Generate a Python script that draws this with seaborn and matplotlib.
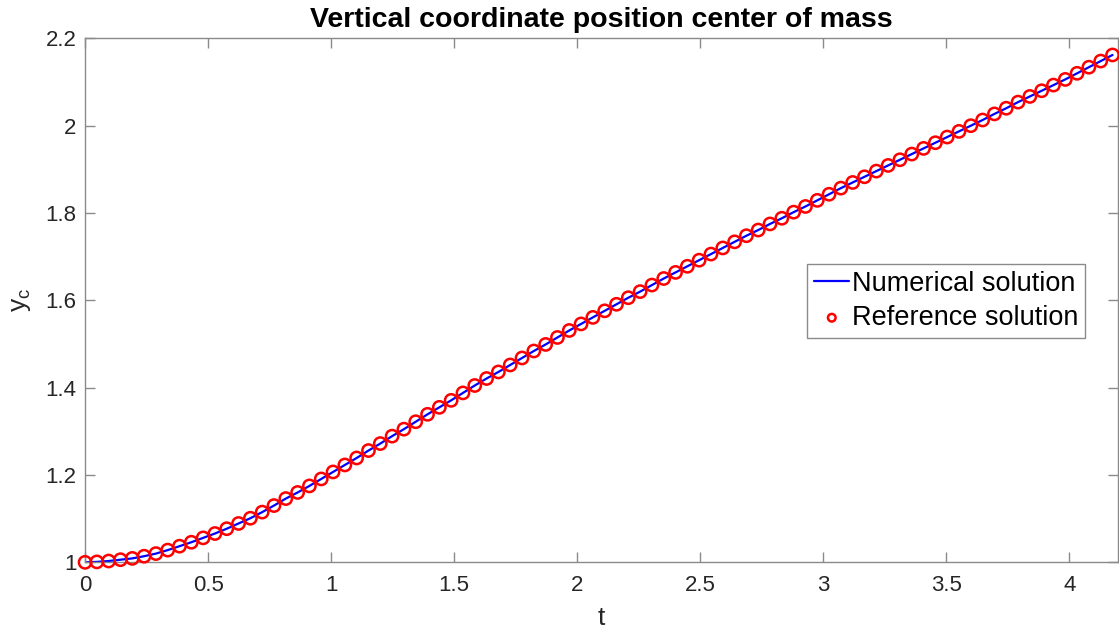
import matplotlib
matplotlib.use("Agg")
import matplotlib.pyplot as plt
import seaborn as sns
import pandas as pd

# ---- data ----
t_values = [
    0.000, 0.048, 0.096, 0.144, 0.192, 0.240, 0.288, 0.336, 0.384, 0.432,
    0.480, 0.528, 0.576, 0.624, 0.672, 0.720, 0.768, 0.816, 0.864, 0.912,
    0.960, 1.008, 1.056, 1.104, 1.152, 1.200, 1.248, 1.296, 1.344, 1.392,
    1.440, 1.488, 1.536, 1.584, 1.632, 1.680, 1.728, 1.776, 1.824, 1.872,
    1.920, 1.968, 2.016, 2.064, 2.112, 2.160, 2.208, 2.256, 2.304, 2.352,
    2.400, 2.448, 2.496, 2.544, 2.592, 2.640, 2.688, 2.736, 2.784, 2.832,
    2.880, 2.928, 2.976, 3.024, 3.072, 3.120, 3.168, 3.216, 3.264, 3.312,
    3.360, 3.408, 3.456, 3.504, 3.552, 3.600, 3.648, 3.696, 3.744, 3.792,
    3.840, 3.888, 3.936, 3.984, 4.032, 4.080, 4.128, 4.176,
]
y_numerical = [
    1.000, 1.001, 1.003, 1.006, 1.009, 1.014, 1.020, 1.028, 1.037, 1.046,
    1.056, 1.066, 1.077, 1.089, 1.101, 1.115, 1.130, 1.146, 1.160, 1.175,
    1.191, 1.207, 1.223, 1.239, 1.256, 1.272, 1.289, 1.305, 1.322, 1.339,
    1.355, 1.371, 1.388, 1.405, 1.421, 1.436, 1.452, 1.468, 1.484, 1.499,
    1.515, 1.531, 1.546, 1.561, 1.576, 1.591, 1.606, 1.620, 1.635, 1.650,
    1.664, 1.678, 1.692, 1.706, 1.720, 1.734, 1.748, 1.761, 1.775, 1.788,
    1.802, 1.815, 1.829, 1.843, 1.857, 1.870, 1.883, 1.896, 1.909, 1.922,
    1.935, 1.948, 1.961, 1.974, 1.987, 2.000, 2.013, 2.027, 2.040, 2.054,
    2.067, 2.080, 2.093, 2.106, 2.120, 2.134, 2.148, 2.162,
]
y_reference = list(y_numerical)

x_ticks = [0, 0.5, 1, 1.5, 2, 2.5, 3, 3.5, 4]
x_tick_labels = ["0", "0.5", "1", "1.5", "2", "2.5", "3", "3.5", "4"]
y_ticks = [1, 1.2, 1.4, 1.6, 1.8, 2, 2.2]
y_tick_labels = ["1", "1.2", "1.4", "1.6", "1.8", "2", "2.2"]

title = "Vertical coordinate position center of mass"
series_names = ["Numerical solution", "Reference solution"]

# ---- style ----
sns.set_theme(style="white")
plt.rcParams["font.family"] = ["Liberation Sans", "DejaVu Sans"]
plt.rcParams["mathtext.default"] = "regular"

df_num = pd.DataFrame({"t": t_values, "y": y_numerical})
df_ref = pd.DataFrame({"t": t_values, "y": y_reference})

fig = plt.figure(figsize=(11.19, 6.29), dpi=100)
ax = fig.add_axes([0.076, 0.106, 0.9235, 0.833])

sns.lineplot(data=df_num, x="t", y="y", ax=ax, color="#0000ff",
             linewidth=1.6, label=series_names[0], zorder=2)
sns.scatterplot(data=df_ref, x="t", y="y", ax=ax, marker="o", s=78,
                facecolors="none", edgecolor="#ff0000", linewidth=1.8,
                label=series_names[1], zorder=3, clip_on=False)

ax.set_xlim(0, 4.2)
ax.set_ylim(1, 2.2)
ax.set_xticks(x_ticks)
ax.set_xticklabels(x_tick_labels)
ax.set_yticks(y_ticks)
ax.set_yticklabels(y_tick_labels)

axis_gray = "#8a8a8a"
text_col = "#262626"
for sp in ax.spines.values():
    sp.set_color(axis_gray)
    sp.set_linewidth(1.0)
    sp.set_visible(True)

ax.tick_params(axis="both", which="both", direction="in", length=7,
               width=1.0, color=axis_gray, labelcolor=text_col,
               labelsize=16, top=True, right=True, bottom=True, left=True)
ax.tick_params(axis="x", pad=9)
ax.tick_params(axis="y", pad=6)

ax.set_title(title, fontsize=20.5, fontweight="bold", color="black", pad=8)
ax.set_xlabel("t", fontsize=19, color=text_col, labelpad=7)
ax.set_ylabel("y$_{c}$", fontsize=19, color=text_col, labelpad=9)

leg = ax.legend(loc="upper left", bbox_to_anchor=(0.699, 0.5695),
                borderaxespad=0, fontsize=19.5, frameon=True, fancybox=False,
                handlelength=1.3, handletextpad=0.08, borderpad=0.25,
                labelspacing=0.3, edgecolor=axis_gray, framealpha=1)
leg.get_frame().set_linewidth(1.0)
for txt in leg.get_texts():
    txt.set_color("black")
handles = leg.legend_handles
try:
    handles[1].set_sizes([30])
except Exception:
    pass

fig.savefig("out.png", dpi=100, facecolor="white")
